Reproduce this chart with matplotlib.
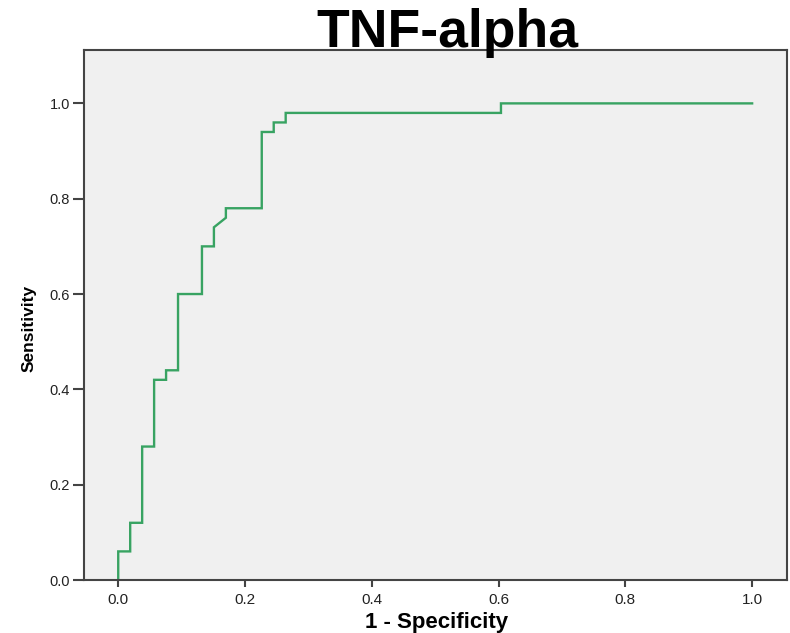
"""
ROC curve for TNF-alpha, redrawn with matplotlib
"""

import numpy as np
import matplotlib
matplotlib.use("Agg")
import matplotlib.pyplot as plt

# --- data ---
N_NEG = 53  # negatives (1 - specificity steps)
N_POS = 50  # positives (sensitivity steps)
FP_COUNTS = [0, 0, 1, 1, 2, 2, 3, 3, 4, 4, 5, 5, 7, 7, 8, 8, 9, 9,
             12, 12, 13, 13, 14, 14, 32, 32, 53]
TP_COUNTS = [0, 3, 3, 6, 6, 14, 14, 21, 21, 22, 22, 30, 30, 35, 35, 37, 38, 39,
             39, 47, 47, 48, 48, 49, 49, 50, 50]
TICKS = [0.0, 0.2, 0.4, 0.6, 0.8, 1.0]

TITLE = "TNF-alpha"
XLABEL = "1 - Specificity"
YLABEL = "Sensitivity"

FONT = "Liberation Sans"
LINE_COLOR = "#38a362"
SPINE_COLOR = "#444444"

fpr = np.array(FP_COUNTS) / N_NEG
tpr = np.array(TP_COUNTS) / N_POS

W, H = 790, 633
fig = plt.figure(figsize=(W / 100, H / 100), dpi=100)
plt.rcParams['font.family'] = [FONT, 'DejaVu Sans']

# axes frame in pixels: left 84, right 787, top 50, bottom 580
ax = fig.add_axes([84 / W, 1 - 580 / H, (787 - 84) / W, (580 - 50) / H])
ax.set_facecolor("#f0f0f0")

ax.plot(fpr, tpr, color=LINE_COLOR, lw=1.7, solid_joinstyle='miter')

ax.set_xlim(-0.054, 1.055)
ax.set_ylim(0.0, 1.112)
ax.set_xticks(TICKS)
ax.set_yticks(TICKS)
ax.set_xticklabels([f"{t:.1f}" for t in TICKS])
ax.set_yticklabels([f"{t:.1f}" for t in TICKS])

for side, spine in ax.spines.items():
    spine.set_color(SPINE_COLOR)
    spine.set_linewidth(1.5)

ax.tick_params(axis='x', direction='out', length=5, width=1.5, color=SPINE_COLOR,
               pad=4, labelsize=11, labelcolor="#222222")
ax.tick_params(axis='y', direction='out', length=8, width=1.5, color=SPINE_COLOR,
               pad=2, labelsize=10.5, labelcolor="#222222")

# --- texts placed by pixel ---
fig.text(447 / W, 1 - 47 / H, TITLE, ha='center', va='baseline',
         fontsize=38.5, fontweight='bold', family=FONT, zorder=5)
fig.text(437 / W, 1 - 628 / H, XLABEL, ha='center', va='baseline',
         fontsize=16, fontweight='bold', family=FONT)
fig.text(29 / W, 1 - 328 / H, YLABEL, ha='center', va='center', rotation=90,
         fontsize=12.5, fontweight='bold', family=FONT)

fig.savefig("out.png", dpi=100)
